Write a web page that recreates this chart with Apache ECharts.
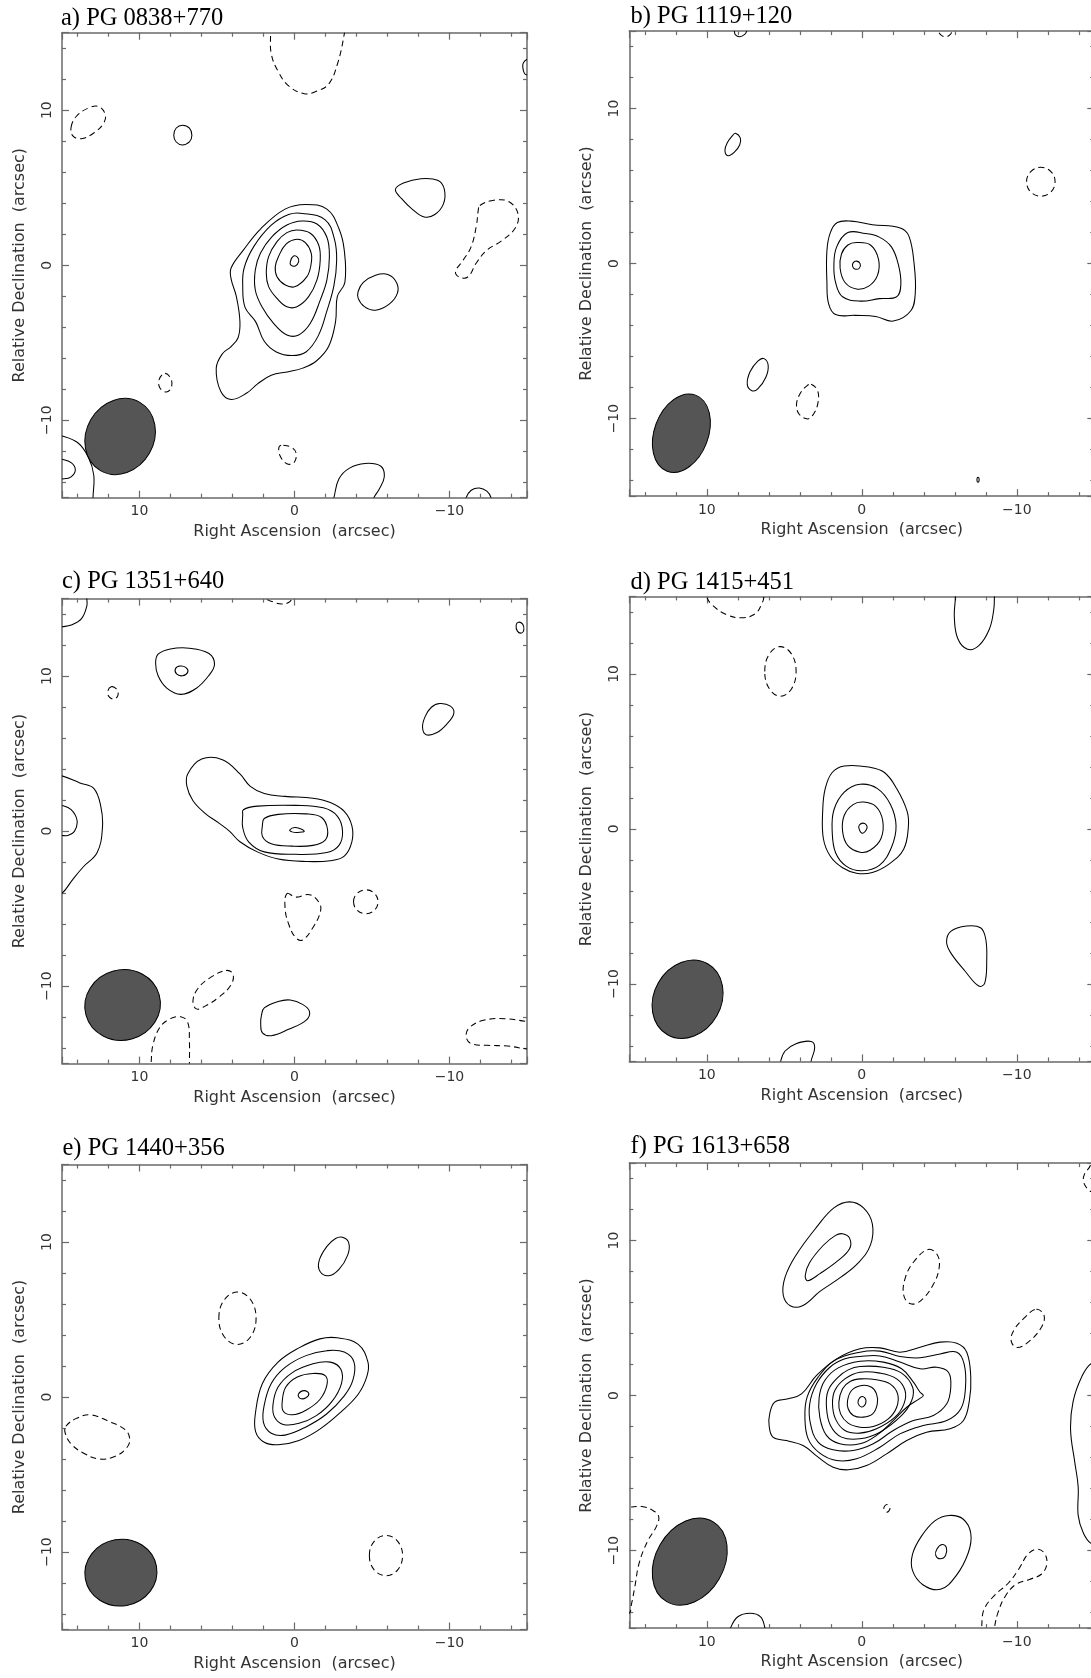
<!DOCTYPE html>
<html><head><meta charset="utf-8">
<script src="https://cdn.jsdelivr.net/npm/echarts@6/dist/echarts.min.js"></script>
<style>html,body{margin:0;padding:0;background:#fff}#c{width:1091px;height:1678px}</style>
</head><body><div id="c"></div>
<script>
// ---------------- DATA (arcsec: [RA offset, Dec offset]) ----------------
const titles = ['a) PG 0838+770', 'b) PG 1119+120', 'c) PG 1351+640', 'd) PG 1415+451', 'e) PG 1440+356', 'f) PG 1613+658'];
const tickValues = [-10, 0, 10];
const tickLabels = ['\u221210', '0', '10'];
const xName = 'Right Ascension  (arcsec)';
const yName = 'Relative Declination  (arcsec)';
// beam: [ra, dec, major, minor, positionAngle(deg)]
const beams = [
  [11.25, -11.05, 2.54, 2.18, -30],
  [11.64, -10.94, 2.62, 1.74, -20.5],
  [11.09, -11.22, 2.45, 2.27, -75],
  [11.24, -10.99, 2.63, 2.17, -29.5],
  [11.2, -11.33, 2.33, 2.15, -80],
  [11.1, -10.71, 2.98, 2.20, -30]
];

// ---- panel a ----
const aRing1 = [[0.27,0.23],[0.06,0.59],[-0.20,0.51],[-0.27,0.23],[-0.05,-0.05],[0.23,0.01]];
const aRing2 = [[-0.16,1.67],[-0.70,1.45],[-1.08,0.77],[-1.06,0.01],[-0.80,-0.74],[-0.05,-1.38],[0.59,-1.28],[1.13,-0.74],[1.24,-0.09],[1.02,0.59],[0.53,1.37]];
const aRing3 = [[-0.16,2.27],[-1.02,2.06],[-1.56,1.30],[-1.66,0.34],[-1.45,-0.95],[-0.91,-2.03],[-0.16,-2.68],[0.49,-2.68],[1.13,-2.14],[1.67,-1.38],[1.82,-0.52],[1.67,0.55],[1.13,1.52],[0.49,2.10]];
const aRing4 = [[-0.48,2.85],[-1.45,2.66],[-2.09,1.80],[-2.25,0.55],[-2.09,-0.95],[-1.66,-2.25],[-1.02,-3.75],[-0.27,-4.50],[0.49,-4.50],[1.35,-3.75],[2.10,-2.68],[2.53,-1.60],[2.53,-0.31],[2.20,0.77],[1.45,1.84],[0.49,2.59]];
const aRing5 = [[-0.52,3.34],[-1.98,2.93],[-2.58,1.66],[-2.72,0.28],[-2.54,-1.34],[-2.09,-2.95],[-1.53,-4.56],[-0.74,-5.60],[0.16,-5.83],[1.17,-5.60],[1.95,-4.91],[2.51,-3.64],[3.19,-2.72],[3.34,-1.34],[3.25,-0.18],[2.63,1.20],[1.50,2.58],[0.38,3.27]];
const aRing6 = [[-0.74,3.92],[-2.09,3.62],[-2.87,2.35],[-3.21,0.97],[-3.25,-1.11],[-2.76,-2.03],[-2.65,-3.64],[-2.20,-5.25],[-1.41,-6.18],[-0.52,-6.64],[0.38,-6.87],[1.50,-7.10],[2.40,-7.67],[3.08,-8.25],[4.09,-8.66],[4.76,-8.13],[5.05,-6.64],[4.65,-5.71],[4.09,-5.25],[3.64,-4.68],[3.52,-3.64],[3.75,-2.03],[4.09,-0.88],[4.09,-0.18],[3.30,0.97],[2.18,2.35],[0.61,3.62]];
const aEdgeTR = [[-15.5,13.4],[-15.05,13.3],[-14.77,13.06],[-14.73,12.76],[-14.84,12.37],[-15.05,12.26],[-15.5,12.2]];
const aCircle = [[7.79,8.39],[7.63,8.85],[7.23,9.03],[6.78,8.85],[6.62,8.39],[6.78,7.95],[7.23,7.76],[7.63,7.95]];
const aBlobNE = [[-6.51,4.88],[-7.03,5.30],[-8.15,5.58],[-9.27,5.46],[-9.67,4.88],[-9.61,3.96],[-9.05,3.27],[-8.37,3.11],[-7.59,3.62],[-6.91,4.29]];
const aBlobE = [[-4.11,-1.68],[-4.44,-1.11],[-5.23,-0.65],[-6.02,-0.60],[-6.58,-1.11],[-6.64,-1.80],[-6.13,-2.49],[-5.23,-2.90],[-4.51,-2.67],[-4.11,-2.14]];
const aCornerOuter = [[15.5,-11.0],[15.02,-11.01],[13.96,-11.47],[13.29,-12.40],[12.95,-13.55],[13.0,-15.0],[13.0,-15.5],[15.5,-15.5]];
const aCornerInner = [[15.5,-12.45],[15.02,-12.51],[14.41,-12.74],[14.14,-13.20],[14.41,-13.66],[14.86,-13.78],[15.5,-13.7]];
const aBottom = [[-2.4,-15.5],[-2.54,-15.0],[-2.87,-13.78],[-3.55,-13.09],[-4.56,-12.79],[-5.57,-12.97],[-5.79,-13.66],[-5.45,-14.47],[-5.12,-15.0],[-5.0,-15.5]];
const aBottomR = [[-11.0,-15.5],[-11.07,-15.0],[-11.40,-14.52],[-11.92,-14.37],[-12.41,-14.58],[-12.68,-15.0],[-12.7,-15.5]];
const aNegTop = [[1.6,16],[1.55,14.98],[1.50,13.64],[1.05,12.49],[0.38,11.57],[-0.63,11.06],[-1.41,11.22],[-2.20,11.68],[-2.76,12.95],[-3.21,14.91],[-3.3,16]];
const aNegNW = [[14.41,8.92],[14.07,9.61],[13.29,10.14],[12.62,10.23],[12.21,9.72],[12.32,9.15],[12.95,8.53],[13.74,8.16],[14.30,8.34]];
const aNegE = [[-11.96,3.85],[-12.86,4.19],[-13.87,4.08],[-14.43,3.27],[-14.21,2.35],[-13.31,1.54],[-12.41,0.97],[-11.74,0.16],[-11.18,-0.76],[-10.62,-0.76],[-10.39,-0.41],[-10.85,0.28],[-11.40,1.20],[-11.74,2.58],[-11.85,3.50]];
const aNegSW = [[8.35,-6.98],[7.97,-7.33],[7.95,-7.90],[8.28,-8.18],[8.69,-7.90],[8.73,-7.37]];
const aNegS = [[0.72,-11.61],[0.16,-11.77],[-0.11,-12.17],[0.04,-12.74],[0.49,-12.81],[0.94,-12.28],[0.99,-11.71]];

// ---- panel b ----
const bRing1 = [[0.56,0.05],[0.34,0.16],[0.11,0.0],[0.16,-0.30],[0.45,-0.35],[0.59,-0.18]];
const bRing2 = [[0.34,1.36],[-0.56,1.20],[-1.08,0.28],[-1.01,-0.76],[-0.45,-1.45],[0.34,-1.64],[1.08,-1.22],[1.40,-0.30],[1.31,0.62],[0.90,1.20]];
const bRing3 = [[0.90,2.00],[-0.23,1.94],[-1.13,1.71],[-1.91,1.08],[-2.36,-0.07],[-2.52,-1.34],[-2.25,-2.14],[-1.13,-2.26],[0.11,-2.42],[1.24,-2.14],[1.69,-1.22],[1.80,-0.07],[1.62,1.08]];
const bRing4 = [[1.58,2.65],[0.68,2.74],[-0.68,2.51],[-2.48,2.30],[-3.04,1.77],[-3.38,-0.07],[-3.45,-1.91],[-3.15,-3.06],[-2.03,-3.71],[-0.90,-3.41],[0.45,-3.34],[1.69,-3.29],[2.14,-2.60],[2.25,-1.22],[2.25,0.85],[2.03,2.00]];
const bTop = [[8.3,15.5],[8.22,14.98],[8.15,14.75],[7.88,14.63],[7.55,14.79],[7.43,14.98],[7.35,15.5]];
const bBlobNW = [[8.15,8.41],[7.84,8.11],[7.88,7.65],[8.22,7.19],[8.63,6.96],[8.83,7.30],[8.67,7.81],[8.33,8.27]];
const bBlobSW = [[6.31,-6.13],[6.04,-6.57],[6.19,-7.33],[6.71,-8.09],[7.09,-8.20],[7.39,-7.79],[7.21,-6.98],[6.71,-6.29]];
const bTiny = [[-7.43,-13.94],[-7.5,-13.78],[-7.57,-13.94],[-7.5,-14.10]];
const bNegTop = [[-4.9,15.5],[-4.95,14.98],[-5.14,14.72],[-5.41,14.63],[-5.68,14.75],[-5.81,14.98],[-5.85,15.5]];
const bNegE = [[-10.63,5.28],[-10.90,5.94],[-11.55,6.21],[-12.20,5.94],[-12.47,5.28],[-12.20,4.62],[-11.55,4.35],[-10.90,4.62]];
const bNegS = [[3.27,-7.79],[2.86,-8.18],[2.82,-8.94],[3.11,-9.70],[3.49,-10.02],[4.05,-9.70],[4.21,-9.06],[3.94,-8.32],[3.56,-7.90]];

// ---- panel c ----
const cInner = [[0.31,0.07],[-0.07,0.23],[-0.63,0.0],[-0.18,-0.09],[0.16,-0.05]];
const cRing3 = [[1.95,0.81],[1.05,1.08],[-0.74,1.11],[-1.75,0.88],[-2.13,0.12],[-1.98,-0.58],[-1.19,-0.92],[0.16,-0.97],[1.50,-0.81],[2.07,-0.35],[2.07,0.35]];
const cRing2 = [[3.30,1.38],[2.40,1.61],[-0.07,1.66],[-1.86,1.50],[-2.76,0.97],[-3.10,0.0],[-2.87,-0.92],[-2.09,-1.38],[-0.07,-1.50],[1.95,-1.34],[2.96,-0.69],[3.34,0.23],[3.34,1.04]];
const cOuter = [[6.89,3.69],[5.99,4.65],[4.65,4.61],[3.52,3.69],[2.85,2.88],[1.95,2.42],[0.61,2.24],[-1.19,2.12],[-2.31,1.84],[-3.21,1.27],[-3.70,0.35],[-3.70,-0.69],[-3.21,-1.61],[-2.31,-1.91],[-0.74,-1.96],[1.05,-1.80],[2.40,-1.34],[3.52,-0.69],[4.20,0.0],[4.87,0.51],[5.77,1.15],[6.55,1.96],[6.94,2.88]];
const cCornerNW = [[13.4,15.5],[13.40,15.02],[13.40,14.52],[13.74,13.71],[14.41,13.29],[15.02,13.18],[15.5,13.1],[15.5,15.5]];
const cTinyNE = [[-14.30,13.30],[-14.45,13.48],[-14.72,13.35],[-14.80,13.0],[-14.65,12.78],[-14.38,12.90]];
const cBlobN = [[8.80,11.41],[8.01,11.75],[6.78,11.80],[5.54,11.47],[5.16,10.76],[5.54,10.02],[6.33,9.22],[7.34,8.82],[8.24,9.22],[8.80,10.02],[8.96,10.83]];
const cBlobNInner = [[7.68,10.48],[7.38,10.65],[7.00,10.55],[6.89,10.25],[7.23,10.02],[7.61,10.14]];
const cBlobNE = [[-9.38,8.23],[-10.06,8.06],[-10.28,7.60],[-9.83,6.91],[-9.16,6.34],[-8.49,6.22],[-8.26,6.68],[-8.42,7.37],[-8.83,7.99]];
const cEdgeW = [[15.5,3.6],[15.02,3.57],[13.85,3.11],[12.95,2.76],[12.50,1.61],[12.39,0.23],[12.73,-1.38],[13.62,-2.30],[14.30,-3.11],[15.02,-4.03],[15.5,-4.1]];
const cEdgeWInner = [[15.5,1.7],[15.02,1.66],[14.41,1.38],[14.03,0.69],[14.19,0.0],[14.63,-0.28],[15.02,-0.28],[15.5,-0.28]];
const cBlobS = [[1.95,-11.41],[1.05,-10.99],[0.27,-10.90],[-0.52,-11.18],[-0.97,-11.64],[-0.74,-12.21],[0.38,-12.79],[1.50,-13.20],[2.07,-13.02],[2.18,-12.44],[2.13,-11.87]];
const cNegTop = [[1.84,15.5],[1.84,15.02],[1.39,14.79],[0.83,14.65],[0.38,14.75],[0.16,15.02],[0.16,15.5]];
const cNegNW = [[11.83,9.31],[11.49,9.17],[11.38,8.80],[11.60,8.53],[11.94,8.64],[12.05,8.99]];
const cNegS1 = [[0.49,-4.03],[-0.07,-4.26],[-0.97,-4.10],[-1.59,-4.61],[-1.68,-5.18],[-1.19,-6.22],[-0.52,-7.03],[-0.07,-6.87],[0.38,-5.99],[0.61,-4.95]];
const cNegS2 = [[-3.81,-4.56],[-4.04,-4.02],[-4.60,-3.79],[-5.16,-4.02],[-5.39,-4.56],[-5.16,-5.10],[-4.60,-5.33],[-4.04,-5.10]];
const cNegSW1 = [[4.42,-8.99],[3.97,-9.22],[4.09,-9.91],[4.87,-10.71],[5.77,-11.29],[6.33,-11.47],[6.55,-10.94],[6.22,-10.14],[5.43,-9.45]];
const cNegSW2 = [[9.3,-15.5],[9.25,-14.93],[9.14,-13.82],[8.69,-12.67],[8.01,-12.10],[7.34,-11.98],[6.89,-12.33],[6.78,-13.59],[6.78,-14.93],[6.78,-15.5]];
const cNegSE = [[-15.5,-12.3],[-15.0,-12.28],[-13.54,-12.10],[-12.19,-12.21],[-11.29,-12.67],[-11.07,-13.25],[-11.40,-13.71],[-12.41,-13.82],[-13.76,-13.87],[-15.0,-14.06],[-15.5,-14.1]];

// ---- panel d ----
const dRing1 = [[0.16,0.25],[-0.18,0.35],[-0.34,0.07],[-0.05,-0.28],[0.16,-0.05]];
const dRing2 = [[-0.11,1.73],[-0.90,1.45],[-1.35,0.53],[-1.24,-0.62],[-0.56,-1.36],[0.11,-1.50],[0.90,-1.08],[1.24,-0.16],[1.13,0.88],[0.56,1.57]];
const dRing3 = [[0.11,2.88],[-1.01,2.60],[-1.85,1.57],[-2.21,0.18],[-1.91,-1.20],[-1.13,-2.35],[0.0,-2.70],[1.01,-2.40],[1.69,-1.54],[1.91,-0.16],[1.80,1.22],[1.13,2.37]];
const dRing4 = [[1.13,4.06],[-0.45,3.99],[-1.46,3.64],[-2.25,2.60],[-2.93,1.11],[-3.00,0.07],[-2.70,-1.31],[-1.80,-2.24],[-0.68,-2.81],[0.34,-2.86],[1.24,-2.51],[2.03,-1.77],[2.48,-0.62],[2.52,1.22],[2.36,2.60],[1.91,3.64]];
const dTopNE = [[-6.0,15.5],[-6.04,15.0],[-5.97,13.66],[-6.19,12.28],[-6.82,11.59],[-7.55,11.82],[-8.22,12.86],[-8.51,14.12],[-8.56,15.0],[-8.6,15.5]];
const dBlobSE = [[-6.76,-6.27],[-7.66,-6.38],[-7.99,-7.07],[-8.06,-8.46],[-7.93,-9.95],[-7.55,-10.14],[-6.64,-9.15],[-5.74,-8.00],[-5.47,-7.30],[-5.74,-6.61]];
const dBottom = [[5.25,-15.5],[5.23,-14.98],[4.95,-14.33],[4.28,-13.87],[3.27,-13.71],[3.04,-14.10],[3.27,-14.98],[3.3,-15.5]];
const dNegTop = [[10.1,15.5],[10.02,15.0],[9.68,14.47],[8.78,13.85],[7.77,13.62],[6.87,13.89],[6.42,14.59],[6.31,15.0],[6.3,15.5]];
const dNegN = [[6.26,10.16],[5.96,11.29],[5.25,11.76],[4.54,11.29],[4.24,10.16],[4.54,9.03],[5.25,8.56],[5.96,9.03]];

// ---- panel e ----
const eInner = [[-0.25,0.18],[-0.63,0.41],[-0.92,0.23],[-0.74,-0.05],[-0.36,-0.09]];
const eRing2 = [[0.79,-0.28],[0.56,0.64],[-0.18,1.29],[-1.19,1.52],[-1.98,1.38],[-2.09,0.76],[-1.64,-0.16],[-0.74,-0.85],[0.16,-1.15],[0.72,-0.92]];
const eRing3 = [[1.39,-0.51],[1.06,0.64],[0.16,1.56],[-1.19,2.14],[-2.31,2.25],[-2.99,1.79],[-3.03,0.87],[-2.42,-0.28],[-1.41,-1.20],[-0.29,-1.70],[0.72,-1.77],[1.28,-1.31]];
const eRing4 = [[1.95,-0.51],[1.50,0.87],[0.61,1.91],[-0.74,2.67],[-2.09,2.99],[-3.21,2.90],[-3.84,2.25],[-3.77,1.10],[-3.21,0.07],[-2.09,-1.08],[-0.74,-1.93],[0.61,-2.46],[1.50,-2.34],[2.00,-1.66]];
const eRing5 = [[2.51,-0.97],[2.07,0.87],[1.06,2.25],[-0.29,3.17],[-1.64,3.75],[-2.76,3.82],[-4.11,3.40],[-4.74,2.25],[-4.67,1.33],[-4.11,0.18],[-2.99,-0.97],[-1.64,-2.07],[-0.29,-2.80],[1.06,-3.08],[1.95,-2.92],[2.51,-2.23]];
const eBlobN = [[-3.10,10.30],[-3.50,9.95],[-3.43,9.15],[-2.87,8.23],[-2.20,7.82],[-1.64,8.11],[-1.59,8.80],[-2.09,9.72],[-2.65,10.23]];
const eNegN = [[4.88,5.08],[4.53,6.27],[3.68,6.77],[2.83,6.27],[2.48,5.08],[2.83,3.89],[3.68,3.39],[4.53,3.89]];
const eNegW = [[14.75,-1.89],[14.07,-1.38],[13.18,-1.15],[12.05,-1.54],[10.93,-2.11],[10.63,-2.69],[10.81,-3.26],[11.60,-3.84],[12.62,-4.0],[13.63,-3.61],[14.41,-3.03],[14.79,-2.34]];
const eNegSE = [[-4.83,-10.23],[-5.14,-9.31],[-5.90,-8.93],[-6.66,-9.31],[-6.97,-10.23],[-6.66,-11.15],[-5.90,-11.53],[-5.14,-11.15]];

// ---- panel f ----
const fLev9 = [[0.23,-0.32],[-0.05,-0.06],[-0.27,-0.32],[-0.09,-0.71],[0.17,-0.64]];
const fLev8 = [[0.02,0.65],[-0.63,0.54],[-0.95,0.11],[-1.00,-0.53],[-0.70,-1.18],[-0.09,-1.39],[0.55,-1.28],[0.88,-0.85],[0.92,-0.32],[0.66,0.33]];
const fLev7 = [[0.02,1.08],[-0.95,1.02],[-1.82,0.76],[-2.31,0.11],[-2.25,-0.75],[-1.71,-1.50],[-0.74,-1.99],[0.12,-2.04],[0.88,-1.78],[1.37,-1.18],[1.48,-0.42],[1.24,0.44],[0.73,0.93]];
const fLev6 = [[0.12,1.51],[-1.17,1.45],[-2.25,1.08],[-2.79,0.33],[-2.72,-0.53],[-2.14,-1.39],[-0.95,-2.14],[0.12,-2.42],[1.09,-2.25],[1.70,-1.50],[1.89,-0.53],[1.74,0.33],[1.09,1.08]];
const fLev5 = [[0.12,1.88],[-1.39,1.83],[-2.57,1.45],[-3.28,0.54],[-3.22,-0.32],[-2.57,-1.28],[-1.17,-2.36],[0.12,-2.79],[1.31,-2.68],[2.02,-1.93],[2.28,-0.75],[2.17,0.33],[1.52,1.19],[0.88,1.66]];
const fLev4 = [[0.12,2.22],[-1.39,2.16],[-2.57,1.73],[-3.33,0.87],[-3.76,0.22],[-3.97,0.01],[-3.71,-0.21],[-2.90,-0.75],[-2.03,-1.61],[-0.95,-2.57],[0.12,-3.11],[1.42,-3.11],[2.28,-2.57],[2.71,-1.39],[2.75,-0.10],[2.39,0.97],[1.52,1.79]];
const fLev3 = [[0.12,2.52],[-1.17,2.56],[-2.46,2.16],[-3.76,1.73],[-4.83,1.83],[-5.59,1.51],[-5.74,0.54],[-5.48,-0.53],[-4.62,-1.28],[-3.33,-1.61],[-2.03,-2.25],[-0.74,-3.11],[0.55,-3.54],[1.85,-3.50],[2.82,-3.00],[3.31,-1.82],[3.36,-0.53],[2.92,0.76],[2.06,1.83],[1.09,2.37]];
const fLev2 = [[0.12,2.80],[-1.17,2.87],[-2.46,2.52],[-3.76,2.44],[-5.05,2.69],[-6.13,2.80],[-6.60,2.05],[-6.69,0.54],[-6.39,-0.85],[-5.48,-1.61],[-3.97,-1.93],[-2.46,-2.47],[-1.17,-3.33],[0.34,-4.08],[1.63,-4.19],[2.71,-3.71],[3.46,-2.79],[3.67,-1.39],[3.53,-0.10],[2.82,1.19],[1.74,2.27]];
const fLev1 = [[5.94,-1.18],[5.62,-0.42],[4.75,-0.21],[3.89,0.11],[2.92,1.30],[1.63,2.37],[0.12,3.02],[-1.17,3.08],[-2.46,2.80],[-3.76,3.12],[-5.05,3.45],[-6.13,3.38],[-6.77,2.80],[-7.03,1.19],[-6.94,-0.32],[-6.56,-1.61],[-5.70,-2.14],[-4.18,-2.36],[-2.90,-2.90],[-1.60,-3.76],[-0.31,-4.51],[0.88,-4.79],[1.85,-4.62],[2.82,-3.97],[3.79,-3.22],[4.86,-2.90],[5.73,-2.68],[5.98,-1.93]];
const fBlobN = [[0.79,12.50],[-0.11,12.11],[-0.68,11.08],[-0.56,9.72],[0.23,8.56],[1.35,7.64],[2.70,6.72],[3.83,5.80],[4.62,5.80],[5.07,6.49],[4.95,7.64],[4.28,9.01],[2.93,10.85],[1.80,12.11]];
const fBlobNInner = [[1.24,10.44],[0.79,10.16],[0.79,9.47],[1.58,8.67],[2.70,7.87],[3.49,7.41],[3.65,7.75],[3.38,8.56],[2.48,9.70],[1.69,10.34]];
const fBlobSE = [[-5.63,-7.73],[-6.53,-7.96],[-7.03,-8.88],[-6.87,-10.14],[-6.08,-11.63],[-5.07,-12.50],[-3.94,-12.20],[-3.27,-11.28],[-3.27,-10.25],[-3.83,-9.10],[-4.73,-8.07]];
const fBlobSEInner = [[-5.18,-9.61],[-5.45,-9.79],[-5.41,-10.30],[-5.07,-10.53],[-4.77,-10.30],[-4.84,-9.91]];
const fBottom = [[8.5,-15.5],[8.45,-14.95],[8.0,-14.27],[7.21,-14.04],[6.53,-14.27],[6.26,-14.95],[6.2,-15.5]];
const fEdgeE = [[-15.5,2.1],[-14.82,2.09],[-14.19,1.22],[-13.63,-0.39],[-13.47,-2.22],[-13.74,-4.29],[-13.96,-5.89],[-13.96,-7.73],[-14.30,-8.88],[-14.82,-9.56],[-15.5,-9.6]];
const fNegN = [[-4.28,9.43],[-4.84,9.13],[-5.0,8.33],[-4.62,7.18],[-3.83,6.15],[-3.15,5.92],[-2.70,6.49],[-2.82,7.64],[-3.38,8.67]];
const fNegE = [[-11.26,5.57],[-11.76,5.16],[-11.60,4.43],[-10.81,3.51],[-10.02,3.10],[-9.64,3.51],[-9.80,4.20],[-10.47,5.0]];
const fNegNE = [[-14.75,15.5],[-14.75,14.86],[-14.37,14.29],[-14.30,13.83],[-14.53,13.37],[-14.86,13.14],[-15.5,13.1],[-15.5,15.5]];
const fNegTiny = [[-1.42,-7.27],[-1.62,-7.02],[-1.82,-7.27],[-1.62,-7.52]];
const fNegSE = [[-7.7,-15.5],[-7.73,-14.95],[-7.88,-13.81],[-8.56,-12.89],[-9.46,-12.09],[-10.14,-11.17],[-10.70,-10.25],[-11.26,-9.91],[-11.76,-10.14],[-11.94,-10.83],[-11.60,-11.51],[-10.81,-11.86],[-9.91,-12.20],[-9.23,-12.99],[-8.78,-14.02],[-8.56,-14.95],[-8.5,-15.5]];
const fNegW = [[15.5,-7.2],[15.05,-7.20],[14.19,-7.16],[13.51,-7.39],[13.11,-7.78],[13.24,-8.42],[13.85,-9.45],[14.37,-10.83],[14.64,-12.32],[14.86,-13.46],[15.0,-14.04],[15.5,-14.1]];

const positive = [
  [aRing1, aRing2, aRing3, aRing4, aRing5, aRing6, aEdgeTR, aCircle, aBlobNE, aBlobE, aCornerOuter, aCornerInner, aBottom, aBottomR],
  [bRing1, bRing2, bRing3, bRing4, bTop, bBlobNW, bBlobSW, bTiny],
  [cInner, cRing3, cRing2, cOuter, cCornerNW, cTinyNE, cBlobN, cBlobNInner, cBlobNE, cEdgeW, cEdgeWInner, cBlobS],
  [dRing1, dRing2, dRing3, dRing4, dTopNE, dBlobSE, dBottom],
  [eInner, eRing2, eRing3, eRing4, eRing5, eBlobN],
  [fLev9, fLev8, fLev7, fLev6, fLev5, fLev4, fLev3, fLev2, fLev1, fBlobN, fBlobNInner, fBlobSE, fBlobSEInner, fBottom, fEdgeE]
];
const negative = [
  [aNegTop, aNegNW, aNegE, aNegSW, aNegS],
  [bNegTop, bNegE, bNegS],
  [cNegTop, cNegNW, cNegS1, cNegS2, cNegSW1, cNegSW2, cNegSE],
  [dNegTop, dNegN],
  [eNegN, eNegW, eNegSE],
  [fNegN, fNegE, fNegNE, fNegTiny, fNegSE, fNegW]
];

// ---------------- LAYOUT / STYLE ----------------
const gridLeft = [62, 629.3, 62, 629.3, 62, 629.3];
const gridTop = [32.7, 31.1, 598.6, 596.4, 1164.5, 1163.1];
const PANEL = 465;
const titleX = [61, 630.5, 62, 630.5, 62.5, 630.5];
const titleBase = [26, 24.5, 588.6, 590.4, 1155.6, 1154.5];
const frameColor = '#6a6a6a';
const textColor = '#333';
const labelFont = 'DejaVu Sans';

const fmt = v => { const k = tickValues.indexOf(v); return k >= 0 ? tickLabels[k] : ''; };

const grids = [], xAxes = [], yAxes = [], series = [], graphics = [];
for (let i = 0; i < 6; i++) {
  grids.push({ left: gridLeft[i], top: gridTop[i], width: PANEL, height: PANEL, containLabel: false, outerBoundsMode: 'none' });
  const common = () => ({
    type: 'value', min: -15, max: 15, splitNumber: 3, gridIndex: i,
    splitLine: { show: false },
    axisLine: { show: true, onZero: false, lineStyle: { color: frameColor, width: 1.5 } },
    axisTick: { show: true, inside: true, length: 7, lineStyle: { color: frameColor, width: 1.2 } },
    minorTick: { show: true, splitNumber: 5, length: 4, lineStyle: { color: frameColor, width: 1.2 } }
  });
  xAxes.push(Object.assign(common(), {
    position: 'bottom', inverse: true,
    axisLabel: { show: true, showMinLabel: false, showMaxLabel: false, formatter: fmt, fontFamily: labelFont, fontSize: 14, color: textColor, margin: 7 },
    name: xName, nameLocation: 'middle', nameGap: 26,
    nameTextStyle: { fontFamily: labelFont, fontSize: 16, color: textColor }
  }));
  xAxes.push(Object.assign(common(), { position: 'top', inverse: true, axisLabel: { show: false } }));
  yAxes.push(Object.assign(common(), {
    position: 'left',
    axisLabel: { show: true, showMinLabel: false, showMaxLabel: false, formatter: fmt, rotate: 90, fontFamily: labelFont, fontSize: 14, color: textColor, margin: 8 },
    name: yName, nameLocation: 'middle', nameGap: 34, nameRotate: 90,
    nameTextStyle: { fontFamily: labelFont, fontSize: 16, color: textColor }
  }));
  yAxes.push(Object.assign(common(), { position: 'right', axisLabel: { show: false } }));

  const mk = (list, dashed) => ({
    type: 'custom', xAxisIndex: 2 * i, yAxisIndex: 2 * i, clip: true, silent: true, z: 2,
    data: list.map((c, k) => [c[0][0], c[0][1], k]),
    renderItem: (params, api) => {
      const c = list[params.dataIndex];
      return {
        type: 'polygon',
        shape: { points: c.map(p => api.coord(p)), smooth: 0.4 },
        style: { fill: 'none', stroke: '#000', lineWidth: 1.05, lineDash: dashed ? [6, 4] : null }
      };
    }
  });
  series.push(mk(positive[i], false));
  series.push(mk(negative[i], true));
  const b = beams[i];
  series.push({
    type: 'custom', xAxisIndex: 2 * i, yAxisIndex: 2 * i, clip: true, silent: true, z: 3,
    data: [[b[0], b[1]]],
    renderItem: (params, api) => {
      const c = api.coord([b[0], b[1]]);
      const s = api.size([1, 1]);
      return {
        type: 'ellipse', x: c[0], y: c[1], rotation: b[4] * Math.PI / 180,
        shape: { cx: 0, cy: 0, rx: b[3] * Math.abs(s[0]), ry: b[2] * Math.abs(s[1]) },
        style: { fill: '#555555', stroke: '#000', lineWidth: 1 }
      };
    }
  });
  graphics.push({
    type: 'text', x: titleX[i], y: titleBase[i] - 7.5, z: 10,
    style: { text: titles[i], font: '24.5px "Liberation Serif"', fill: '#000', align: 'left', verticalAlign: 'middle', textAlign: 'left', textVerticalAlign: 'middle' }
  });
}

const chart = echarts.init(document.getElementById('c'), null, { renderer: 'canvas', width: 1091, height: 1678 });
chart.setOption({
  animation: false,
  backgroundColor: '#fff',
  grid: grids, xAxis: xAxes, yAxis: yAxes, series: series, graphic: graphics
});
</script>
</body></html>
